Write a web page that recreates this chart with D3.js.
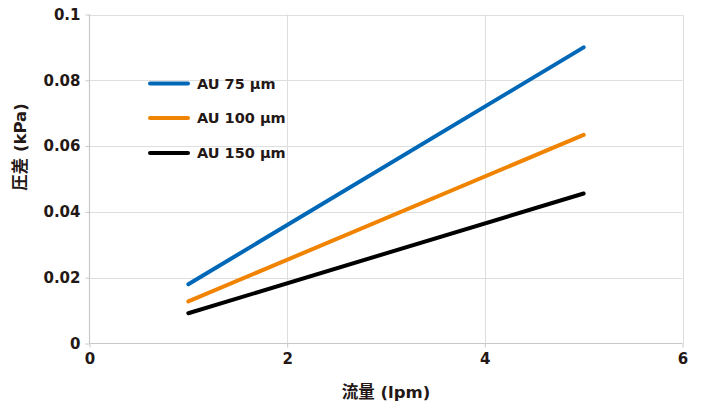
<!DOCTYPE html>
<html><head><meta charset="utf-8">
<script src="https://cdn.jsdelivr.net/npm/d3@7"></script>
<style>
html,body{margin:0;padding:0;background:#fff;}
svg{display:block;}
text{font-family:"DejaVu Sans","Noto Sans CJK JP",sans-serif;font-weight:bold;fill:#231815;}
</style></head>
<body>
<svg id="chart" width="702" height="402"></svg>
<script>
const xValues = [1, 5];
const seriesNames = ["AU 75 μm", "AU 100 μm", "AU 150 μm"];
const au75 = [0.018, 0.090];
const au100 = [0.0128, 0.0634];
const au150 = [0.0092, 0.0456];
const seriesColors = ["#0068b7", "#f08300", "#000000"];
const xTicks = [0, 2, 4, 6];
const yTicks = [0, 0.02, 0.04, 0.06, 0.08, 0.1];
const yTickLabels = ["0", "0.02", "0.04", "0.06", "0.08", "0.1"];
const xLabel = "流量 (lpm)";
const yLabel = "圧差 (kPa)";

const svg = d3.select("#chart");
const pL = 89.5, pR = 682.5, pT = 14.5, pB = 343.5;
const x = d3.scaleLinear().domain([0, 6]).range([pL, pR]);
const y = d3.scaleLinear().domain([0, 0.1]).range([pB, pT]);

// gridlines
svg.append("g").selectAll("line").data(yTicks.filter(d => d > 0)).join("line")
  .attr("x1", pL).attr("x2", pR)
  .attr("y1", d => Math.round(y(d)) + 0.5).attr("y2", d => Math.round(y(d)) + 0.5)
  .attr("stroke", "#dedede").attr("stroke-width", 1);
svg.append("g").selectAll("line").data(xTicks.filter(d => d > 0)).join("line")
  .attr("y1", pT).attr("y2", pB)
  .attr("x1", d => Math.round(x(d)) + 0.5).attr("x2", d => Math.round(x(d)) + 0.5)
  .attr("stroke", "#dedede").attr("stroke-width", 1);

// axes
const xAxis = svg.append("g").attr("transform", `translate(0,${pB})`)
  .call(d3.axisBottom(x).tickValues(xTicks).tickSize(4).tickPadding(6).tickFormat(d3.format("d")));
const yAxis = svg.append("g").attr("transform", `translate(${pL},0)`)
  .call(d3.axisLeft(y).tickValues(yTicks).tickSize(4).tickPadding(5).tickFormat((d, i) => yTickLabels[i]));
[xAxis, yAxis].forEach(g => {
  g.select(".domain").attr("stroke", "#c8c8c8").attr("stroke-width", 1.2);
  g.selectAll(".tick line").attr("stroke", "#c8c8c8");
  g.selectAll(".tick text").attr("font-size", 15).attr("font-family", "DejaVu Sans").attr("font-weight", "bold").attr("fill", "#231815");
});
xAxis.select(".domain").attr("d", `M${pL},0H${pR}`);
yAxis.select(".domain").attr("d", `M0,${pT}V${pB}`);

// lines
const allSeries = [au75, au100, au150];
const line = d3.line().x((d, i) => x(xValues[i])).y(d => y(d));
svg.append("g").selectAll("path").data(allSeries).join("path")
  .attr("d", d => line(d))
  .attr("fill", "none")
  .attr("stroke", (d, i) => seriesColors[i])
  .attr("stroke-width", 4)
  .attr("stroke-linecap", "round");

// legend
const legendY = [83.5, 118, 153];
const lg = svg.append("g");
seriesNames.forEach((name, i) => {
  lg.append("line").attr("x1", 150).attr("x2", 188).attr("y1", legendY[i]).attr("y2", legendY[i])
    .attr("stroke", seriesColors[i]).attr("stroke-width", 4).attr("stroke-linecap", "round");
  lg.append("text").attr("x", 197).attr("y", legendY[i] + 5).attr("font-size", 14.5).text(name);
});

// axis titles
svg.append("text").attr("x", 386).attr("y", 398).attr("text-anchor", "middle")
  .attr("font-size", 16.5).attr("font-family", "'Noto Sans CJK JP',sans-serif").attr("font-weight", "bold").text(xLabel);
svg.append("text").attr("transform", "translate(26,147) rotate(-90)").attr("text-anchor", "middle")
  .attr("font-size", 16.5).attr("font-family", "'Noto Sans CJK JP',sans-serif").attr("font-weight", "bold").text(yLabel);
</script>
</body></html>
